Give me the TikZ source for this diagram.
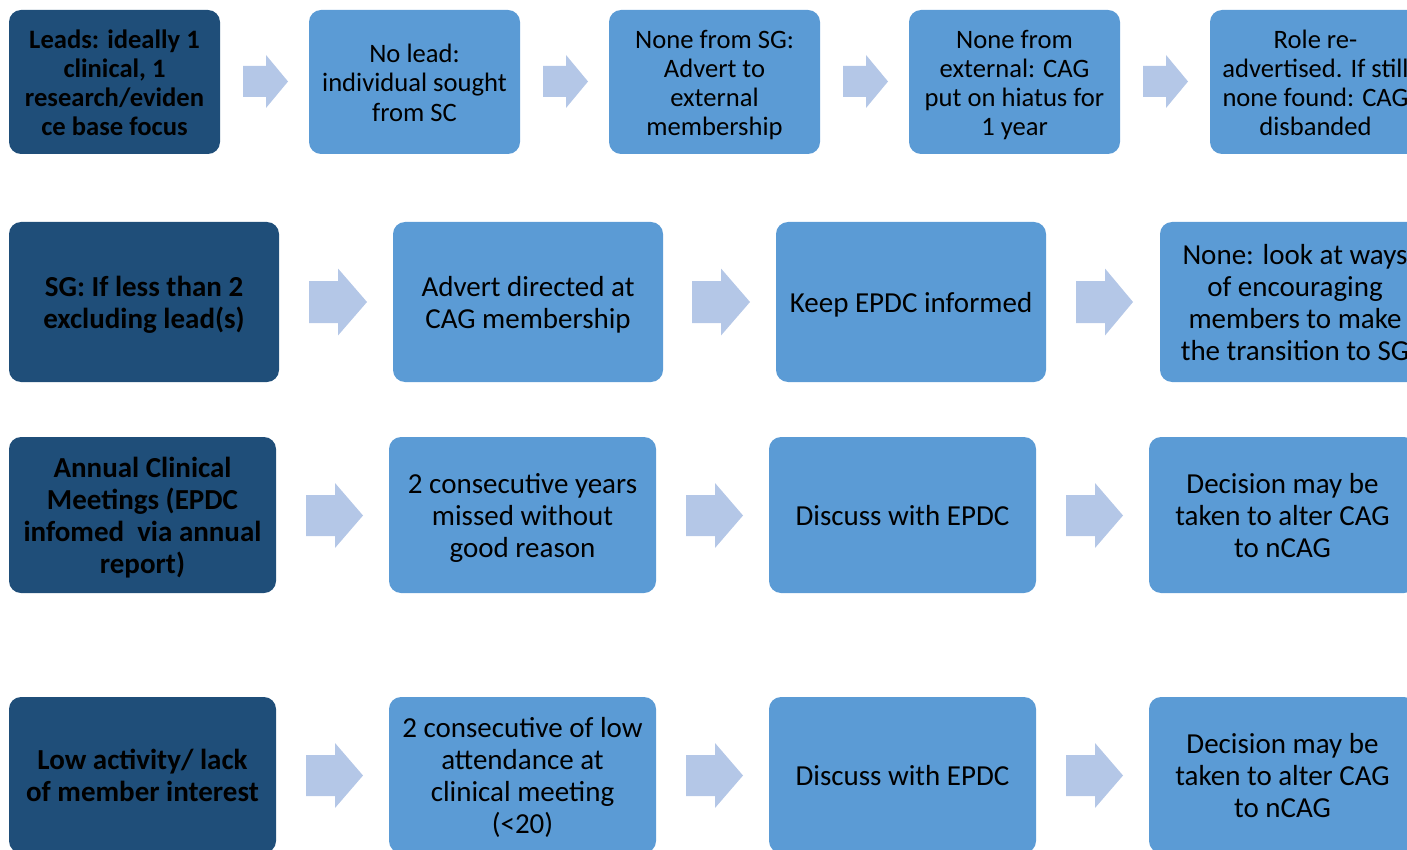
\documentclass[tikz,border=0pt]{standalone}
\usepackage{fontspec}
\setmainfont{Carlito}
\definecolor{darkc}{HTML}{1F4E79}
\definecolor{lightc}{HTML}{5B9BD5}
\definecolor{arrowc}{HTML}{B4C7E7}
\newcommand{\ts}[1]{\rule[-4.5pt]{0pt}{28.95pt}#1\rule[-4.5pt]{0pt}{28.95pt}}
\newcommand{\tb}[1]{\rule[-5.05pt]{0pt}{31.9pt}#1\rule[-5.05pt]{0pt}{31.9pt}}
\newcommand{\blockarrow}[6]{%
  \fill[arrowc] (#1,#4-#5) -- (#2,#4-#5) -- (#2,#4-#6) -- (#3,#4) -- (#2,#4+#6) -- (#2,#4+#5) -- (#1,#4+#5) -- cycle;}
\begin{document}
\begin{tikzpicture}[x=1pt,y=-1pt,
  box/.style={rounded corners=12pt, inner sep=0pt, align=center, text=black},
  headbox/.style={box, fill=darkc},
  stepbox/.style={box, fill=lightc},
  rowone/.style={minimum width=211pt, minimum height=144pt},
  rowtwo/.style={minimum width=270pt, minimum height=160pt},
  rowthree/.style={minimum width=267pt, minimum height=156pt},
  fsmall/.style={font=\fontsize{26.6}{29}\selectfont},
  fsmallb/.style={font=\fontsize{26.6}{29}\selectfont\bfseries},
  fbig/.style={font=\fontsize{29}{32}\selectfont},
  fbigb/.style={font=\fontsize{29}{32}\selectfont\bfseries}]
\useasboundingbox (0,0) rectangle (1407,850);
\clip (0,0) rectangle (1407,850);
% Row 1
\node[headbox,rowone,fsmallb] (a1) at (114.5,82) {\ts{Leads: ideally 1\\clinical, 1\\research/eviden\\ce base focus}};
\node[stepbox,rowone,fsmall] (a2) at (414.5,82) {\ts{No lead:\\individual sought\\from SC}};
\node[stepbox,rowone,fsmall] (a3) at (714.5,82) {\ts{None from SG:\\Advert to\\external\\membership}};
\node[stepbox,rowone,fsmall] (a4) at (1014.5,82) {\ts{None from\\external: CAG\\put on hiatus for\\1 year}};
\node[stepbox,rowone,fsmall] (a5) at (1315.5,82) {\ts{Role re-\\advertised. If still\\none found: CAG\\disbanded}};
\blockarrow{243}{266}{288}{81.5}{15.5}{26.5}
\blockarrow{543}{566}{588}{81.5}{15.5}{26.5}
\blockarrow{843}{866}{888}{81.5}{15.5}{26.5}
\blockarrow{1143}{1166}{1188}{81.5}{15.5}{26.5}
% Row 2
\node[headbox,rowtwo,fbigb] (b1) at (144,302) {\tb{SG: If less than 2\\excluding lead(s)}};
\node[stepbox,rowtwo,fbig] (b2) at (528,302) {\tb{Advert directed at\\CAG membership}};
\node[stepbox,rowtwo,fbig] (b3) at (911,302) {\tb{Keep EPDC informed}};
\node[stepbox,rowtwo,fbig] (b4) at (1295,302) {\tb{None: look at ways\\of encouraging\\members to make\\the transition to SG}};
\blockarrow{309}{338}{367}{302}{21}{33.5}
\blockarrow{692}{721}{750}{302}{21}{33.5}
\blockarrow{1076}{1105}{1133}{302}{21}{33.5}
% Row 3
\node[headbox,rowthree,fbigb] (c1) at (142.5,515) {\tb{Annual Clinical\\Meetings (EPDC\\infomed\ \ via annual\\report)}};
\node[stepbox,rowthree,fbig] (c2) at (522.5,515) {\tb{2 consecutive years\\missed without\\good reason}};
\node[stepbox,rowthree,fbig] (c3) at (902.5,515) {\tb{Discuss with EPDC}};
\node[stepbox,rowthree,fbig] (c4) at (1282.5,515) {\tb{Decision may be\\taken to alter CAG\\to nCAG}};
\blockarrow{306}{335}{363}{515.5}{20.5}{32.5}
\blockarrow{686}{715}{743}{515.5}{20.5}{32.5}
\blockarrow{1066}{1095}{1123}{515.5}{20.5}{32.5}
% Row 4
\node[headbox,rowthree,fbigb] (d1) at (142.5,775) {\tb{Low activity/ lack\\of member interest}};
\node[stepbox,rowthree,fbig] (d2) at (522.5,775) {\tb{2 consecutive of low\\attendance at\\clinical meeting\\(<20)}};
\node[stepbox,rowthree,fbig] (d3) at (902.5,775) {\tb{Discuss with EPDC}};
\node[stepbox,rowthree,fbig] (d4) at (1282.5,775) {\tb{Decision may be\\taken to alter CAG\\to nCAG}};
\blockarrow{306}{335}{363}{775.5}{20.5}{32.5}
\blockarrow{686}{715}{743}{775.5}{20.5}{32.5}
\blockarrow{1066}{1095}{1123}{775.5}{20.5}{32.5}
\end{tikzpicture}
\end{document}
